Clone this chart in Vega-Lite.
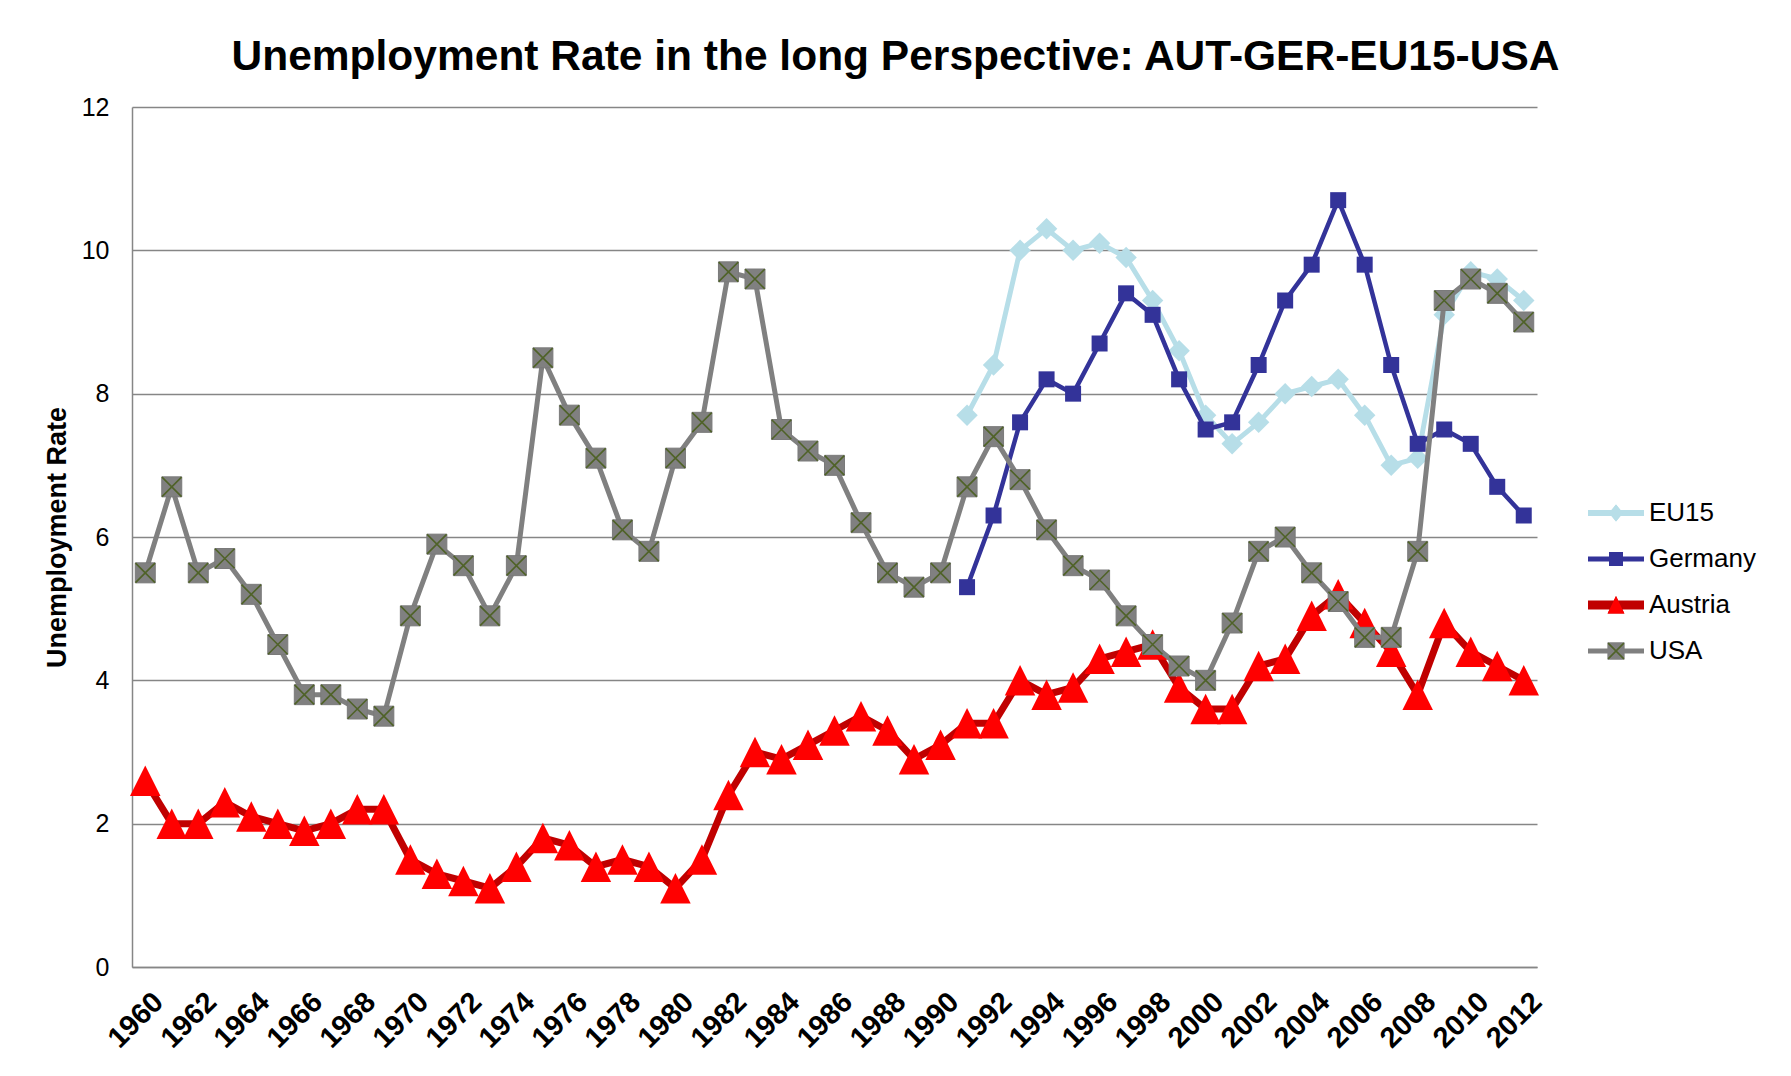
{
  "$schema": "https://vega.github.io/schema/vega-lite/v6.json",
  "autosize": {"type": "none"},
  "width": 1405,
  "height": 860,
  "padding": {"left": 132, "top": 107, "right": 254, "bottom": 109},
  "background": "white",
  "title": {
    "text": "Unemployment Rate in the long Perspective: AUT-GER-EU15-USA",
    "font": "Liberation Sans",
    "fontSize": 42.5,
    "fontWeight": "bold",
    "color": "black",
    "anchor": "middle",
    "dx": 61,
    "dy": 47,
    "baseline": "alphabetic",
    "offset": 30
  },
  "config": {
    "view": {"stroke": null},
    "font": "Liberation Sans",
    "legend": {"labelFont": "Liberation Sans"}
  },
  "resolve": {"scale": {"color": "independent", "shape": "independent"}},
  "data": {
    "values": [
      {"year": 1960, "series": "USA", "value": 5.5},
      {"year": 1961, "series": "USA", "value": 6.7},
      {"year": 1962, "series": "USA", "value": 5.5},
      {"year": 1963, "series": "USA", "value": 5.7},
      {"year": 1964, "series": "USA", "value": 5.2},
      {"year": 1965, "series": "USA", "value": 4.5},
      {"year": 1966, "series": "USA", "value": 3.8},
      {"year": 1967, "series": "USA", "value": 3.8},
      {"year": 1968, "series": "USA", "value": 3.6},
      {"year": 1969, "series": "USA", "value": 3.5},
      {"year": 1970, "series": "USA", "value": 4.9},
      {"year": 1971, "series": "USA", "value": 5.9},
      {"year": 1972, "series": "USA", "value": 5.6},
      {"year": 1973, "series": "USA", "value": 4.9},
      {"year": 1974, "series": "USA", "value": 5.6},
      {"year": 1975, "series": "USA", "value": 8.5},
      {"year": 1976, "series": "USA", "value": 7.7},
      {"year": 1977, "series": "USA", "value": 7.1},
      {"year": 1978, "series": "USA", "value": 6.1},
      {"year": 1979, "series": "USA", "value": 5.8},
      {"year": 1980, "series": "USA", "value": 7.1},
      {"year": 1981, "series": "USA", "value": 7.6},
      {"year": 1982, "series": "USA", "value": 9.7},
      {"year": 1983, "series": "USA", "value": 9.6},
      {"year": 1984, "series": "USA", "value": 7.5},
      {"year": 1985, "series": "USA", "value": 7.2},
      {"year": 1986, "series": "USA", "value": 7.0},
      {"year": 1987, "series": "USA", "value": 6.2},
      {"year": 1988, "series": "USA", "value": 5.5},
      {"year": 1989, "series": "USA", "value": 5.3},
      {"year": 1990, "series": "USA", "value": 5.5},
      {"year": 1991, "series": "USA", "value": 6.7},
      {"year": 1992, "series": "USA", "value": 7.4},
      {"year": 1993, "series": "USA", "value": 6.8},
      {"year": 1994, "series": "USA", "value": 6.1},
      {"year": 1995, "series": "USA", "value": 5.6},
      {"year": 1996, "series": "USA", "value": 5.4},
      {"year": 1997, "series": "USA", "value": 4.9},
      {"year": 1998, "series": "USA", "value": 4.5},
      {"year": 1999, "series": "USA", "value": 4.2},
      {"year": 2000, "series": "USA", "value": 4.0},
      {"year": 2001, "series": "USA", "value": 4.8},
      {"year": 2002, "series": "USA", "value": 5.8},
      {"year": 2003, "series": "USA", "value": 6.0},
      {"year": 2004, "series": "USA", "value": 5.5},
      {"year": 2005, "series": "USA", "value": 5.1},
      {"year": 2006, "series": "USA", "value": 4.6},
      {"year": 2007, "series": "USA", "value": 4.6},
      {"year": 2008, "series": "USA", "value": 5.8},
      {"year": 2009, "series": "USA", "value": 9.3},
      {"year": 2010, "series": "USA", "value": 9.6},
      {"year": 2011, "series": "USA", "value": 9.4},
      {"year": 2012, "series": "USA", "value": 9.0},
      {"year": 1960, "series": "Austria", "value": 2.6},
      {"year": 1961, "series": "Austria", "value": 2.0},
      {"year": 1962, "series": "Austria", "value": 2.0},
      {"year": 1963, "series": "Austria", "value": 2.3},
      {"year": 1964, "series": "Austria", "value": 2.1},
      {"year": 1965, "series": "Austria", "value": 2.0},
      {"year": 1966, "series": "Austria", "value": 1.9},
      {"year": 1967, "series": "Austria", "value": 2.0},
      {"year": 1968, "series": "Austria", "value": 2.2},
      {"year": 1969, "series": "Austria", "value": 2.2},
      {"year": 1970, "series": "Austria", "value": 1.5},
      {"year": 1971, "series": "Austria", "value": 1.3},
      {"year": 1972, "series": "Austria", "value": 1.2},
      {"year": 1973, "series": "Austria", "value": 1.1},
      {"year": 1974, "series": "Austria", "value": 1.4},
      {"year": 1975, "series": "Austria", "value": 1.8},
      {"year": 1976, "series": "Austria", "value": 1.7},
      {"year": 1977, "series": "Austria", "value": 1.4},
      {"year": 1978, "series": "Austria", "value": 1.5},
      {"year": 1979, "series": "Austria", "value": 1.4},
      {"year": 1980, "series": "Austria", "value": 1.1},
      {"year": 1981, "series": "Austria", "value": 1.5},
      {"year": 1982, "series": "Austria", "value": 2.4},
      {"year": 1983, "series": "Austria", "value": 3.0},
      {"year": 1984, "series": "Austria", "value": 2.9},
      {"year": 1985, "series": "Austria", "value": 3.1},
      {"year": 1986, "series": "Austria", "value": 3.3},
      {"year": 1987, "series": "Austria", "value": 3.5},
      {"year": 1988, "series": "Austria", "value": 3.3},
      {"year": 1989, "series": "Austria", "value": 2.9},
      {"year": 1990, "series": "Austria", "value": 3.1},
      {"year": 1991, "series": "Austria", "value": 3.4},
      {"year": 1992, "series": "Austria", "value": 3.4},
      {"year": 1993, "series": "Austria", "value": 4.0},
      {"year": 1994, "series": "Austria", "value": 3.8},
      {"year": 1995, "series": "Austria", "value": 3.9},
      {"year": 1996, "series": "Austria", "value": 4.3},
      {"year": 1997, "series": "Austria", "value": 4.4},
      {"year": 1998, "series": "Austria", "value": 4.5},
      {"year": 1999, "series": "Austria", "value": 3.9},
      {"year": 2000, "series": "Austria", "value": 3.6},
      {"year": 2001, "series": "Austria", "value": 3.6},
      {"year": 2002, "series": "Austria", "value": 4.2},
      {"year": 2003, "series": "Austria", "value": 4.3},
      {"year": 2004, "series": "Austria", "value": 4.9},
      {"year": 2005, "series": "Austria", "value": 5.2},
      {"year": 2006, "series": "Austria", "value": 4.8},
      {"year": 2007, "series": "Austria", "value": 4.4},
      {"year": 2008, "series": "Austria", "value": 3.8},
      {"year": 2009, "series": "Austria", "value": 4.8},
      {"year": 2010, "series": "Austria", "value": 4.4},
      {"year": 2011, "series": "Austria", "value": 4.2},
      {"year": 2012, "series": "Austria", "value": 4.0},
      {"year": 1991, "series": "Germany", "value": 5.3},
      {"year": 1992, "series": "Germany", "value": 6.3},
      {"year": 1993, "series": "Germany", "value": 7.6},
      {"year": 1994, "series": "Germany", "value": 8.2},
      {"year": 1995, "series": "Germany", "value": 8.0},
      {"year": 1996, "series": "Germany", "value": 8.7},
      {"year": 1997, "series": "Germany", "value": 9.4},
      {"year": 1998, "series": "Germany", "value": 9.1},
      {"year": 1999, "series": "Germany", "value": 8.2},
      {"year": 2000, "series": "Germany", "value": 7.5},
      {"year": 2001, "series": "Germany", "value": 7.6},
      {"year": 2002, "series": "Germany", "value": 8.4},
      {"year": 2003, "series": "Germany", "value": 9.3},
      {"year": 2004, "series": "Germany", "value": 9.8},
      {"year": 2005, "series": "Germany", "value": 10.7},
      {"year": 2006, "series": "Germany", "value": 9.8},
      {"year": 2007, "series": "Germany", "value": 8.4},
      {"year": 2008, "series": "Germany", "value": 7.3},
      {"year": 2009, "series": "Germany", "value": 7.5},
      {"year": 2010, "series": "Germany", "value": 7.3},
      {"year": 2011, "series": "Germany", "value": 6.7},
      {"year": 2012, "series": "Germany", "value": 6.3},
      {"year": 1991, "series": "EU15", "value": 7.7},
      {"year": 1992, "series": "EU15", "value": 8.4},
      {"year": 1993, "series": "EU15", "value": 10.0},
      {"year": 1994, "series": "EU15", "value": 10.3},
      {"year": 1995, "series": "EU15", "value": 10.0},
      {"year": 1996, "series": "EU15", "value": 10.1},
      {"year": 1997, "series": "EU15", "value": 9.9},
      {"year": 1998, "series": "EU15", "value": 9.3},
      {"year": 1999, "series": "EU15", "value": 8.6},
      {"year": 2000, "series": "EU15", "value": 7.7},
      {"year": 2001, "series": "EU15", "value": 7.3},
      {"year": 2002, "series": "EU15", "value": 7.6},
      {"year": 2003, "series": "EU15", "value": 8.0},
      {"year": 2004, "series": "EU15", "value": 8.1},
      {"year": 2005, "series": "EU15", "value": 8.2},
      {"year": 2006, "series": "EU15", "value": 7.7},
      {"year": 2007, "series": "EU15", "value": 7.0},
      {"year": 2008, "series": "EU15", "value": 7.1},
      {"year": 2009, "series": "EU15", "value": 9.1},
      {"year": 2010, "series": "EU15", "value": 9.7},
      {"year": 2011, "series": "EU15", "value": 9.6},
      {"year": 2012, "series": "EU15", "value": 9.3}
    ]
  },
  "encoding": {
    "x": {
      "field": "year",
      "type": "ordinal",
      "scale": {"type": "point", "padding": 0.5},
      "axis": {
        "title": null,
        "values": [1960, 1962, 1964, 1966, 1968, 1970, 1972, 1974, 1976, 1978, 1980, 1982, 1984, 1986, 1988, 1990, 1992, 1994, 1996, 1998, 2000, 2002, 2004, 2006, 2008, 2010, 2012],
        "labelAngle": -45,
        "labelAlign": "right",
        "labelBaseline": "top",
        "labelFont": "Liberation Sans",
        "labelFontSize": 29,
        "labelFontWeight": "bold",
        "labelColor": "black",
        "labelPadding": 20,
        "labelOffset": 3,
        "ticks": false,
        "tickSize": 0,
        "grid": false,
        "domainColor": "#868686",
        "domainWidth": 1.5,
        "labelOverlap": false
      }
    },
    "y": {
      "field": "value",
      "type": "quantitative",
      "scale": {"domain": [0, 12], "nice": false},
      "axis": {
        "title": "Unemployment Rate",
        "values": [0, 2, 4, 6, 8, 10, 12],
        "labelFont": "Liberation Sans",
        "labelFontSize": 25,
        "labelColor": "black",
        "labelPadding": 23,
        "ticks": false,
        "tickSize": 0,
        "grid": true,
        "gridColor": "#868686",
        "gridWidth": 1.5,
        "domainColor": "#868686",
        "domainWidth": 1.5,
        "titleFont": "Liberation Sans",
        "titleFontSize": 27,
        "titleFontWeight": "bold",
        "titleColor": "black",
        "titleAngle": -90,
        "titleAlign": "center",
        "titleBaseline": "alphabetic",
        "titleX": -67,
        "titleY": 430
      }
    }
  },
  "layer": [
    {
      "transform": [{"filter": "datum.series === 'EU15'"}],
      "mark": {"type": "line", "color": "#B7DEE8", "strokeWidth": 5, "strokeJoin": "round", "strokeCap": "round"}
    },
    {
      "transform": [{"filter": "datum.series === 'EU15'"}],
      "mark": {"type": "point", "shape": "diamond", "filled": true, "color": "#B7DEE8", "opacity": 1, "size": 460}
    },
    {
      "transform": [{"filter": "datum.series === 'Germany'"}],
      "mark": {"type": "line", "color": "#333399", "strokeWidth": 4.5, "strokeJoin": "round", "strokeCap": "round"}
    },
    {
      "transform": [{"filter": "datum.series === 'Germany'"}],
      "mark": {"type": "point", "shape": "square", "filled": true, "color": "#333399", "opacity": 1, "size": 256}
    },
    {
      "transform": [{"filter": "datum.series === 'Austria'"}],
      "mark": {"type": "line", "color": "#C00000", "strokeWidth": 7, "strokeJoin": "round", "strokeCap": "round"}
    },
    {
      "transform": [{"filter": "datum.series === 'Austria'"}],
      "mark": {"type": "point", "shape": "M0,-1L1,1L-1,1Z", "filled": true, "color": "#FF0000", "opacity": 1, "size": 930}
    },
    {
      "transform": [{"filter": "datum.series === 'USA'"}],
      "mark": {"type": "line", "color": "#808080", "strokeWidth": 5, "strokeJoin": "round", "strokeCap": "round"}
    },
    {
      "transform": [{"filter": "datum.series === 'USA'"}],
      "mark": {"type": "point", "shape": "square", "filled": true, "fill": "#808080", "stroke": "#7a7a7a", "strokeWidth": 1, "opacity": 1, "size": 400}
    },
    {
      "transform": [{"filter": "datum.series === 'USA'"}],
      "mark": {"type": "point", "shape": "M-1,-1L1,1M-1,1L1,-1", "filled": false, "stroke": "#4F6228", "strokeWidth": 1.6, "opacity": 1, "size": 380}
    },
    {
      "transform": [{"filter": "false"}],
      "mark": {"type": "point", "filled": true, "opacity": 1},
      "encoding": {
        "color": {
          "field": "series",
          "type": "nominal",
          "scale": {"domain": ["EU15", "Germany", "Austria", "USA"], "range": ["#B7DEE8", "#333399", "#C00000", "#808080"]},
          "legend": {
            "orient": "none",
            "legendX": 1456,
            "legendY": 378,
            "title": null,
            "padding": 0,
            "symbolSize": 3136,
            "symbolStrokeWidth": 0,
            "symbolOpacity": 1,
            "labelFontSize": 26,
            "labelColor": "black",
            "labelOffset": 5,
            "rowPadding": 5
          }
        },
        "shape": {
          "field": "series",
          "type": "nominal",
          "scale": {
            "domain": ["EU15", "Germany", "Austria", "USA"],
            "range": [
              "M-1,-0.107L1,-0.107L1,0.107L-1,0.107Z M-0.25,0L0,-0.3L0.25,0L0,0.3Z",
              "M-1,-0.09L1,-0.09L1,0.09L-1,0.09Z M-0.25,-0.25L0.25,-0.25L0.25,0.25L-0.25,0.25Z",
              "M-1,-0.16L1,-0.16L1,0.16L-1,0.16Z M0,-0.32L0.3,0.3L-0.3,0.3Z",
              "M-1,-0.09L1,-0.09L1,0.09L-1,0.09Z M-0.3,-0.3L0.3,-0.3L0.3,0.3L-0.3,0.3Z"
            ]
          }
        }
      }
    },
    {
      "transform": [{"filter": "false"}],
      "mark": {"type": "point", "filled": true, "opacity": 1},
      "encoding": {
        "color": {
          "field": "series",
          "type": "nominal",
          "scale": {"domain": ["EU15", "Germany", "Austria", "USA"], "range": ["#B7DEE8", "#333399", "#FF0000", "#808080"]},
          "legend": {
            "orient": "none",
            "legendX": 1456,
            "legendY": 378,
            "title": null,
            "padding": 0,
            "symbolSize": 3136,
            "symbolStrokeWidth": 0,
            "symbolOpacity": 1,
            "labelFontSize": 26,
            "labelColor": "black",
            "labelOpacity": 0,
            "labelOffset": 5,
            "rowPadding": 5
          }
        },
        "shape": {
          "field": "series",
          "type": "nominal",
          "scale": {
            "domain": ["EU15", "Germany", "Austria", "USA"],
            "range": [
              "M-1,0L1,0Z M-0.25,0L0,-0.3L0.25,0L0,0.3Z",
              "M-1,0L1,0Z M-0.25,-0.25L0.25,-0.25L0.25,0.25L-0.25,0.25Z",
              "M-1,0L1,0Z M0,-0.32L0.3,0.3L-0.3,0.3Z",
              "M-1,0L1,0Z M-0.3,-0.3L0.3,-0.3L0.3,0.3L-0.3,0.3Z"
            ]
          }
        }
      }
    },
    {
      "transform": [{"filter": "false"}],
      "mark": {"type": "point", "filled": true, "opacity": 1},
      "encoding": {
        "color": {
          "field": "series",
          "type": "nominal",
          "scale": {"domain": ["EU15", "Germany", "Austria", "USA"], "range": ["#4F6228", "#4F6228", "#4F6228", "#4F6228"]},
          "legend": {
            "orient": "none",
            "legendX": 1456,
            "legendY": 378,
            "title": null,
            "padding": 0,
            "symbolSize": 3136,
            "symbolStrokeWidth": 0,
            "symbolOpacity": 1,
            "labelFontSize": 26,
            "labelColor": "black",
            "labelOpacity": 0,
            "labelOffset": 5,
            "rowPadding": 5
          }
        },
        "shape": {
          "field": "series",
          "type": "nominal",
          "scale": {
            "domain": ["EU15", "Germany", "Austria", "USA"],
            "range": [
              "M-1,0L1,0Z",
              "M-1,0L1,0Z",
              "M-1,0L1,0Z",
              "M-1,0L1,0Z M-0.3,-0.26L-0.26,-0.3L0.3,0.26L0.26,0.3Z M0.26,-0.3L0.3,-0.26L-0.26,0.3L-0.3,0.26Z"
            ]
          }
        }
      }
    }
  ]
}
